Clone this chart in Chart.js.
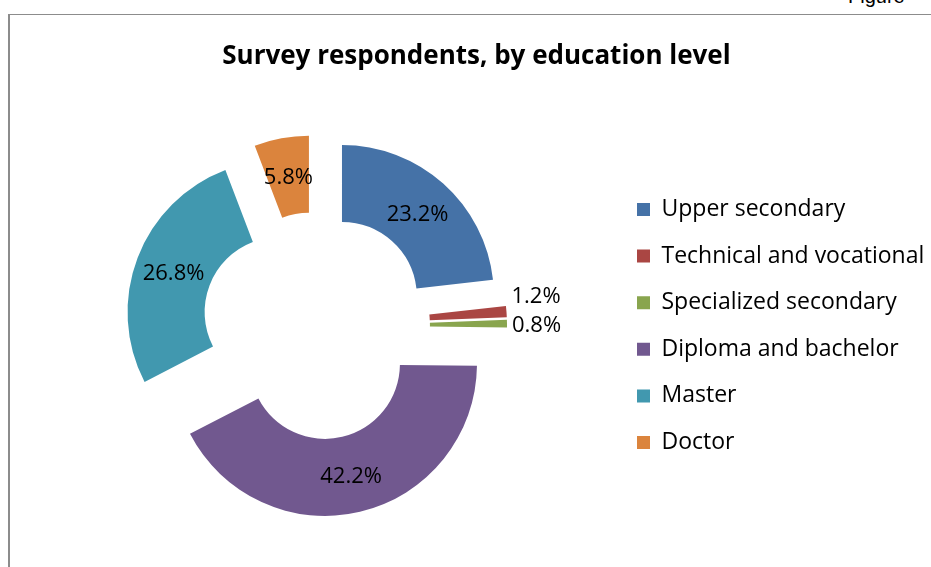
<!DOCTYPE html>
<html>
<head>
<meta charset="utf-8">
<script src="https://cdn.jsdelivr.net/npm/chart.js@4.4.1/dist/chart.umd.min.js"></script>
<style>
    html, body {
        margin: 0;
        padding: 0;
        width: 931px;
        height: 567px;
        overflow: hidden;
        background: #fff;
    }
    #caption {
        position: absolute;
        left: 848px;
        top: -15px;
        font: 20px "Liberation Sans", Arial, sans-serif;
        color: #000;
    }
    #frame {
        position: absolute;
        left: 8px;
        top: 14px;
        width: 936px;
        height: 600px;
        border-left: 2px solid #8c8c8c;
        border-top: 1px solid #8c8c8c;
    }
</style>
</head>
<body>
<div id="caption">Figure</div>
<div id="frame">
    <canvas id="chart1" width="936" height="600"></canvas>
</div>
<script>
"use strict";

// 学歴別の回答者の割合 (%)
const categories = [
    "Upper secondary",
    "Technical and vocational",
    "Specialized secondary",
    "Diploma and bachelor",
    "Master",
    "Doctor",
];
const shares = [23.2, 1.2, 0.8, 42.2, 26.8, 5.8];
const sliceColors = ["#4572a7", "#aa4643", "#89a54e", "#71588f", "#4198af", "#db843d"];

const chartTitle = "Survey respondents, by education level";
const fontFamily = "'Open Sans', Lato, sans-serif";
const labelSize = 22;
const legendSize = 23;
const titleSize = 26;

// 円の中心と凡例の位置（canvas座標）
const centerX = 306;
const centerY = 311;
const explodeDistance = 39;
const legendBoxX = 627;
const legendGap = 23.6;
const boxSize = 13;

// 小さいスライスのラベルは外側に置く（縦方向のずらし量）
const outsideNudge = [0, -15, 2, 0, 0, 0];

// 凡例の幅から左右の余白を決める
const measureCtx = document.createElement("canvas").getContext("2d");
measureCtx.font = `${legendSize}px ${fontFamily}`;
const maxLabelWidth = Math.max(...categories.map((t) => measureCtx.measureText(t).width));
const itemWidth = boxSize + legendSize / 2 + maxLabelWidth;
const canvasWidth = 936;
const canvasHeight = 600;
const padLeft = 2 * centerX - (legendBoxX - legendGap);
const padRight = canvasWidth - (legendBoxX + itemWidth + 10);
const titlePad = { top: 26, bottom: 10 };
const titleHeight = titlePad.top + titleSize * 1.2 + titlePad.bottom;
const padBottom = canvasHeight - (2 * centerY - titleHeight);

// スライスを形を変えずに外側へ平行移動させる（Chart.jsのoffsetは形が変わるため）
const explodeSlices = {
    id: "explodeSlices",
    afterDatasetUpdate(chart, args) {
        args.meta.data.forEach((arc) => {
            const mid = (arc.startAngle + arc.endAngle) / 2;
            arc.x += Math.cos(mid) * explodeDistance;
            arc.y += Math.sin(mid) * explodeDistance;
        });
    },
};

const percentLabels = {
    id: "percentLabels",
    afterDatasetsDraw(chart) {
        const ctx = chart.ctx;
        const meta = chart.getDatasetMeta(0);
        ctx.save();
        ctx.font = `${labelSize}px ${fontFamily}`;
        ctx.fillStyle = "#000";
        ctx.textBaseline = "middle";
        meta.data.forEach((arc, i) => {
            const p = arc.getProps(["x", "y", "startAngle", "endAngle", "innerRadius", "outerRadius"], true);
            const mid = (p.startAngle + p.endAngle) / 2;
            const text = shares[i].toFixed(1) + "%";
            if (shares[i] < 2) {
                // 外側ラベル
                const r = p.outerRadius + 5;
                ctx.textAlign = "left";
                ctx.fillText(text, p.x + Math.cos(mid) * r, p.y + Math.sin(mid) * r + outsideNudge[i]);
            } else {
                const r = (p.innerRadius + p.outerRadius) / 2;
                ctx.textAlign = "center";
                ctx.fillText(text, p.x + Math.cos(mid) * r, p.y + Math.sin(mid) * r + 2);
            }
        });
        ctx.restore();
    },
};

Chart.defaults.color = "#000";
Chart.defaults.font.family = fontFamily;

const context = document.getElementById("chart1").getContext("2d");
const myChart = new Chart(context, {
    type: "doughnut",
    data: {
        labels: categories,
        datasets: [
            {
                data: shares,
                backgroundColor: sliceColors,
                borderWidth: 0,
                hoverOffset: 0,
            },
        ],
    },
    options: {
        responsive: false,
        animation: false,
        radius: 152,
        cutout: "49.3%",
        layout: {
            padding: { left: padLeft, right: padRight, top: 0, bottom: padBottom },
        },
        plugins: {
            title: {
                display: true,
                text: chartTitle,
                font: { size: titleSize, weight: "bold" },
                padding: titlePad,
            },
            legend: {
                position: "right",
                fullSize: false,
                labels: {
                    boxWidth: boxSize,
                    boxHeight: boxSize,
                    padding: legendGap,
                    font: { size: legendSize },
                },
            },
            tooltip: { enabled: false },
        },
    },
    plugins: [explodeSlices, percentLabels],
});
</script>
</body>
</html>
